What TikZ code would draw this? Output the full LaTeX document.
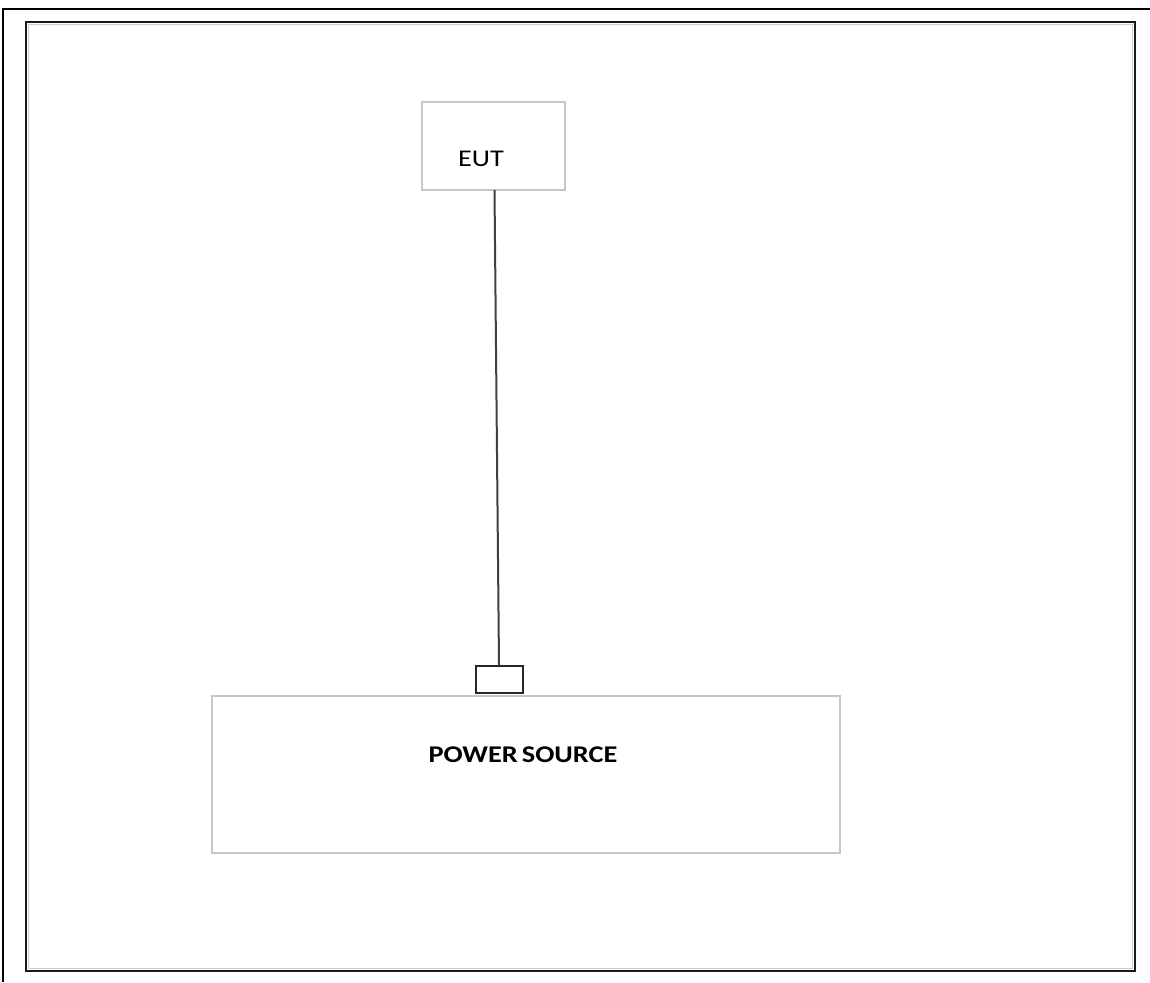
\documentclass[tikz,border=0pt]{standalone}
\usepackage{graphicx}
\usepackage{fontspec}
\setmainfont{Carlito}
\begin{document}
\begin{tikzpicture}[x=1pt,y=-1pt,
  graybox/.style={draw=black!22,line width=2pt},
  darkbox/.style={draw=black!85,line width=2pt},
  lbl/.style={font=\fontsize{24}{27}\selectfont,inner sep=0pt,anchor=base},
  wire/.style={draw=black!75,line width=2pt}]
\useasboundingbox (0,0) rectangle (1150,982);
% outer frame (open to the right and bottom)
\draw[line width=2.2pt,black] (3,982) -- (3,9) -- (1150,9);
% inner frame
\draw[line width=2.2pt,black!90] (26,22) rectangle (1135,971);
\draw[line width=1.2pt,black!20] (28.5,24.5) -- (28.5,968.5);
\draw[line width=1.2pt,black!20] (28.5,24.5) -- (1132.5,24.5);
\draw[line width=1.2pt,black!20] (28.5,968.5) -- (1132.5,968.5);
\draw[line width=1.2pt,black!20] (1132.5,24.5) -- (1132.5,968.5);
% EUT box
\node[graybox,minimum width=143pt,minimum height=88pt,inner sep=0pt] (eut) at (493.5,145.5) {};
\node[lbl] (eutlbl) at (481,166) {\scalebox{1.18}[1]{EUT}};
% power source box
\node[graybox,minimum width=628pt,minimum height=157pt,inner sep=0pt] (ps) at (526,774.5) {};
\node[lbl,font=\fontsize{24}{27}\selectfont\bfseries] (pslbl) at (523,762) {\scalebox{1.18}[1]{POWER\hspace{-2pt} SOURCE}};
% connector block
\node[darkbox,minimum width=47pt,minimum height=27pt,inner sep=0pt] (plug) at (499.5,679.5) {};
\coordinate (top) at (494.5,190);
\draw[wire] (top) -- (plug.north -| 499,0);
\end{tikzpicture}
\end{document}
